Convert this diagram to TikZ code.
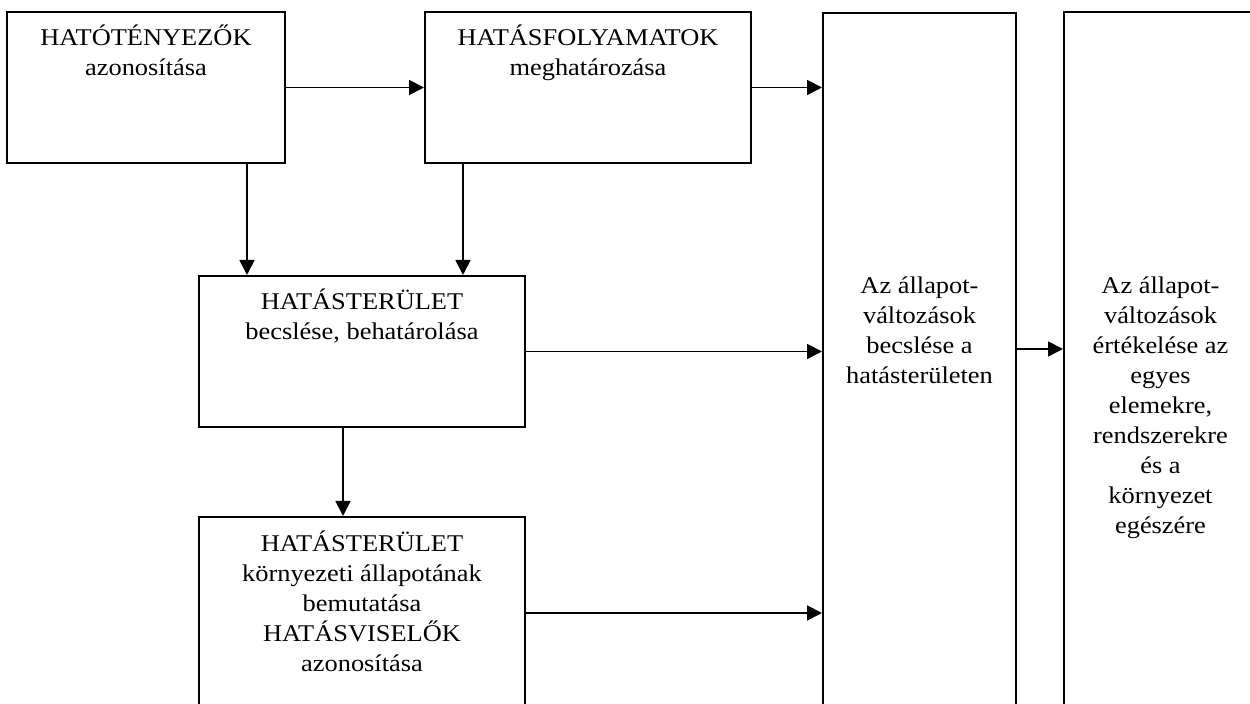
\documentclass[tikz,border=0pt]{standalone}
\usepackage{fontspec}
\setmainfont{Liberation Serif}[FakeStretch=1.1]
\usepackage{tikz}
\usetikzlibrary{positioning, arrows.meta, calc}

\begin{document}
\begin{tikzpicture}[
        x=0.5pt, y=-0.5pt,
        box/.style={draw, line width=1pt, inner sep=0pt},
        txt/.style={align=center, inner sep=0pt, anchor=base,
          font=\fontsize{12}{15}\selectfont},
        arr/.style={line width=0.9pt, -{Triangle[length=7.5pt, width=7.5pt]}}
      ]
      \clip (0,0) rectangle (1250,704);

      % boxes
      \node[box, minimum width=139pt, minimum height=75.5pt] (fak) at (146, 87.5)   {};
      \node[box, minimum width=163pt, minimum height=75.5pt] (fol) at (588, 87.5)   {};
      \node[box, minimum width=163pt, minimum height=75.5pt] (ter) at (362, 351.5)  {};
      \node[box, minimum width=163pt, minimum height=131.5pt] (all) at (362, 648.5) {};
      \node[box, minimum width=96.5pt, minimum height=393.5pt] (bec) at (919.5, 406.5) {};
      \node[box, minimum width=96.5pt, minimum height=394pt] (ert) at (1160.5, 406) {};

      % texts (anchor = baseline of the last line)
      \node[txt] (fak-t) at ($(fak.north)+(0,65)$) {HATÓTÉNYEZŐK\\azonosítása};
      \node[txt] (fol-t) at ($(fol.north)+(0,65)$) {HATÁSFOLYAMATOK\\meghatározása};
      \node[txt] (ter-t) at ($(ter.north)+(0,65)$) {HATÁSTERÜLET\\becslése, behatárolása};
      \node[txt] (all-t) at ($(all.north)+(0,156)$) {HATÁSTERÜLET\\környezeti állapotának\\bemutatása\\HATÁSVISELŐK\\azonosítása};
      \node[txt] (bec-t) at (919.5, 384)  {Az állapot-\\változások\\becslése a\\hatásterületen};
      \node[txt] (ert-t) at (1160.5, 534) {Az állapot-\\változások\\értékelése az\\egyes\\elemekre,\\rendszerekre\\és a\\környezet\\egészére};

      % connectors
      \draw[arr] (fak) -- (fol);
      \draw[arr] (fol.east) -- (fol.east -| bec.west);
      \draw[arr] (fak.south -| 247,0) -- (ter.north -| 247,0);
      \draw[arr] (fol.south -| 463,0) -- (ter.north -| 463,0);
      \draw[arr] (ter.south -| 343,0) -- (all.north -| 343,0);
      \draw[arr] (ter.east) -- (ter.east -| bec.west);
      \draw[arr] (all.east |- 0,613) -- (bec.west |- 0,613);
      \draw[arr] (bec.east |- 0,349) -- (ert.west |- 0,349);
    \end{tikzpicture}
\end{document}
